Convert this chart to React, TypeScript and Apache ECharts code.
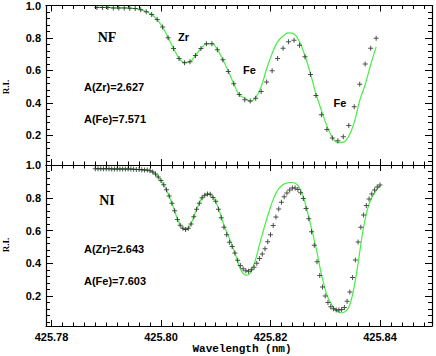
import React, { useEffect, useRef } from "react";
import * as echarts from "echarts";

// ---------- data ----------
const topWl = [
  425.7883, 425.7893, 425.7903, 425.7913, 425.7923, 425.7933, 425.7943, 425.7953, 425.7963, 425.7973,
  425.7983, 425.7993, 425.8003, 425.8013, 425.8023, 425.8033, 425.8043, 425.8053, 425.8063, 425.8073,
  425.8083, 425.8093, 425.8103, 425.8113, 425.8123, 425.8133, 425.8143, 425.8153, 425.8163, 425.8173,
  425.8183, 425.8193, 425.8203, 425.8213, 425.8223, 425.8233, 425.8243, 425.8253, 425.8263, 425.8273,
  425.8283, 425.8293, 425.8303, 425.8313, 425.8323, 425.8333, 425.8343, 425.8353, 425.8363, 425.8373,
  425.8383, 425.8393,
];
const topObs = [
  0.988, 0.988, 0.988, 0.985, 0.985, 0.985, 0.983, 0.982, 0.974, 0.962,
  0.944, 0.914, 0.867, 0.802, 0.735, 0.673, 0.647, 0.653, 0.692, 0.735,
  0.765, 0.765, 0.728, 0.665, 0.594, 0.517, 0.451, 0.419, 0.412, 0.429,
  0.470, 0.529, 0.598, 0.673, 0.737, 0.776, 0.786, 0.755, 0.684, 0.574,
  0.446, 0.327, 0.236, 0.184, 0.167, 0.191, 0.260, 0.376, 0.514, 0.640,
  0.737, 0.798,
];
const topFit = [
  0.988, 0.988, 0.988, 0.986, 0.985, 0.985, 0.984, 0.981, 0.975, 0.963,
  0.944, 0.913, 0.866, 0.802, 0.735, 0.674, 0.648, 0.654, 0.692, 0.735,
  0.764, 0.765, 0.728, 0.666, 0.595, 0.518, 0.449, 0.430, 0.410, 0.433,
  0.500, 0.610, 0.705, 0.776, 0.812, 0.831, 0.824, 0.776, 0.690, 0.580,
  0.457, 0.354, 0.258, 0.188, 0.155, 0.158, 0.194, 0.280, 0.415, 0.513,
  0.635, 0.745,
];

const botWl = [
  425.788, 425.7885, 425.789, 425.7895, 425.79, 425.7905, 425.791, 425.7915, 425.792, 425.7925,
  425.793, 425.7935, 425.794, 425.7945, 425.795, 425.7955, 425.796, 425.7965, 425.797, 425.7975,
  425.798, 425.7985, 425.799, 425.7995, 425.8, 425.8005, 425.801, 425.8015, 425.802, 425.8025,
  425.803, 425.8035, 425.804, 425.8045, 425.805, 425.8055, 425.806, 425.8065, 425.807, 425.8075,
  425.808, 425.8085, 425.809, 425.8095, 425.81, 425.8105, 425.811, 425.8115, 425.812, 425.8125,
  425.813, 425.8135, 425.814, 425.8145, 425.815, 425.8155, 425.816, 425.8165, 425.817, 425.8175,
  425.818, 425.8185, 425.819, 425.8195, 425.82, 425.8205, 425.821, 425.8215, 425.822, 425.8225,
  425.823, 425.8235, 425.824, 425.8245, 425.825, 425.8255, 425.826, 425.8265, 425.827, 425.8275,
  425.828, 425.8285, 425.829, 425.8295, 425.83, 425.8305, 425.831, 425.8315, 425.832, 425.8325,
  425.833, 425.8335, 425.834, 425.8345, 425.835, 425.8355, 425.836, 425.8365, 425.837, 425.8375,
  425.838, 425.8385, 425.839, 425.8395, 425.84,
];
const botObs = [
  0.977, 0.977, 0.977, 0.977, 0.977, 0.977, 0.976, 0.976, 0.976, 0.976,
  0.976, 0.975, 0.975, 0.975, 0.974, 0.973, 0.972, 0.971, 0.970, 0.969,
  0.965, 0.958, 0.945, 0.927, 0.905, 0.880, 0.849, 0.810, 0.766, 0.721,
  0.668, 0.632, 0.614, 0.606, 0.614, 0.640, 0.684, 0.730, 0.766, 0.800,
  0.815, 0.823, 0.821, 0.801, 0.778, 0.730, 0.678, 0.620, 0.574, 0.528,
  0.503, 0.462, 0.418, 0.386, 0.367, 0.354, 0.352, 0.361, 0.376, 0.400,
  0.429, 0.457, 0.488, 0.531, 0.574, 0.630, 0.683, 0.732, 0.772, 0.806,
  0.829, 0.847, 0.859, 0.860, 0.850, 0.830, 0.795, 0.735, 0.672, 0.592,
  0.510, 0.410, 0.325, 0.255, 0.200, 0.160, 0.135, 0.122, 0.115, 0.114,
  0.118, 0.130, 0.168, 0.225, 0.313, 0.420, 0.530, 0.620, 0.695, 0.752,
  0.792, 0.823, 0.848, 0.865, 0.878,
];
const botFit = [
  0.977, 0.977, 0.977, 0.977, 0.977, 0.977, 0.976, 0.976, 0.976, 0.976,
  0.976, 0.975, 0.975, 0.975, 0.974, 0.973, 0.972, 0.971, 0.970, 0.968,
  0.964, 0.957, 0.945, 0.927, 0.905, 0.879, 0.848, 0.810, 0.766, 0.719,
  0.670, 0.634, 0.613, 0.606, 0.615, 0.642, 0.684, 0.728, 0.767, 0.799,
  0.816, 0.823, 0.819, 0.802, 0.775, 0.735, 0.685, 0.632, 0.590, 0.552,
  0.505, 0.462, 0.412, 0.365, 0.338, 0.328, 0.330, 0.352, 0.395, 0.448,
  0.515, 0.575, 0.635, 0.690, 0.742, 0.790, 0.828, 0.855, 0.872, 0.884,
  0.890, 0.893, 0.893, 0.889, 0.876, 0.848, 0.805, 0.745, 0.680, 0.612,
  0.540, 0.465, 0.380, 0.305, 0.240, 0.190, 0.158, 0.130, 0.112, 0.102,
  0.098, 0.102, 0.115, 0.148, 0.210, 0.295, 0.400, 0.515, 0.620, 0.700,
  0.760, 0.800, 0.830, 0.853, 0.874,
];

const xMajorTicks = [425.78, 425.8, 425.82, 425.84];
const yMajorTicks = [0.2, 0.4, 0.6, 0.8, 1.0];

const panelNames = ["NF", "NI"];
const abundZr = ["A(Zr)=2.627", "A(Zr)=2.643"];
const abundFe = ["A(Fe)=7.571", "A(Fe)=7.603"];

// ---------- layout constants ----------
const X_MIN = 425.779;
const X_MAX = 425.8495;
const Y_MIN = 0.017;
const Y_MAX = 1.0;

const xMinorTicks: number[] = [];
for (let k = 0; k <= 34; k++) xMinorTicks.push(+(425.78 + 0.002 * k).toFixed(4));
const yMinorTicks: number[] = [];
for (let k = 1; k <= 25; k++) yMinorTicks.push(+(0.04 * k).toFixed(2));

const FONT = "'Liberation Sans', Arial, sans-serif";
const SERIF = "'Liberation Serif', 'Times New Roman', serif";
const MONO = "'Liberation Mono', 'Courier New', monospace";
const PLUS = "path://M4,0H6V4H10V6H6V10H4V6H0V4H4Z";
const GREEN = "#44f044";

function xAx(gi: number, pos: string, major: boolean, labels: boolean) {
  return {
    type: "value",
    gridIndex: gi,
    min: X_MIN,
    max: X_MAX,
    position: pos,
    axisLine: { show: major, onZero: false, lineStyle: { color: "#000", width: 1.2 } },
    axisTick: {
      show: true,
      inside: true,
      length: major ? 6 : 3.5,
      customValues: major ? xMajorTicks : xMinorTicks,
      lineStyle: { color: "#000", width: 1 },
    },
    axisLabel: {
      show: labels,
      customValues: xMajorTicks,
      formatter: (v: number) => v.toFixed(2),
      color: "#000",
      fontFamily: FONT,
      fontWeight: "bold",
      fontSize: 11,
      margin: 5,
    },
    splitLine: { show: false },
  };
}

function yAx(gi: number, pos: string, major: boolean, labels: boolean) {
  return {
    type: "value",
    gridIndex: gi,
    min: Y_MIN,
    max: Y_MAX,
    position: pos,
    axisLine: { show: major, onZero: false, lineStyle: { color: "#000", width: 1.2 } },
    axisTick: {
      show: true,
      inside: true,
      length: major ? 7 : 4,
      customValues: major ? yMajorTicks : yMinorTicks,
      lineStyle: { color: "#000", width: 1 },
    },
    axisLabel: {
      show: labels,
      customValues: yMajorTicks,
      formatter: (v: number) => v.toFixed(1),
      color: "#000",
      fontFamily: FONT,
      fontWeight: "bold",
      fontSize: 11,
      margin: 5,
    },
    splitLine: { show: false },
  };
}

function txt(x: number, y: number, text: string, font: string, align = "left", rotation = 0) {
  return {
    type: "text",
    x,
    y,
    rotation,
    style: {
      text,
      font,
      fill: "#000",
      align,
      textAlign: align,
      verticalAlign: "middle",
      textVerticalAlign: "middle",
    },
  };
}

export default function App() {
  const ref = useRef<HTMLDivElement>(null);
  useEffect(() => {
    document.body.style.margin = "0";
    if (!ref.current) return;
    const chart = echarts.init(ref.current, undefined, { renderer: "svg" });

    const xAxis: any[] = [];
    const yAxis: any[] = [];
    for (let g = 0; g < 2; g++) {
      xAxis.push(xAx(g, "bottom", true, g === 1));
      xAxis.push(xAx(g, "bottom", false, false));
      xAxis.push(xAx(g, "top", true, false));
      xAxis.push(xAx(g, "top", false, false));
      yAxis.push(yAx(g, "left", true, true));
      yAxis.push(yAx(g, "left", false, false));
      yAxis.push(yAx(g, "right", true, false));
      yAxis.push(yAx(g, "right", false, false));
    }

    const mk = (wl: number[], v: number[]) => wl.map((w, i) => [w, v[i]]);

    const series: any[] = [
      {
        type: "line",
        xAxisIndex: 0,
        yAxisIndex: 0,
        data: mk(topWl, topFit),
        showSymbol: false,
        smooth: 0.4,
        lineStyle: { color: GREEN, width: 1.2 },
        z: 2,
      },
      {
        type: "scatter",
        xAxisIndex: 0,
        yAxisIndex: 0,
        data: mk(topWl, topObs),
        symbol: PLUS,
        symbolSize: 5,
        itemStyle: { color: "#222" },
        z: 3,
      },
      {
        type: "line",
        xAxisIndex: 4,
        yAxisIndex: 4,
        data: mk(botWl, botFit),
        showSymbol: false,
        smooth: 0.4,
        lineStyle: { color: GREEN, width: 1.2 },
        z: 2,
      },
      {
        type: "scatter",
        xAxisIndex: 4,
        yAxisIndex: 4,
        data: mk(botWl, botObs),
        symbol: PLUS,
        symbolSize: 5,
        itemStyle: { color: "#222" },
        z: 3,
      },
    ];

    const bold11 = `bold 11px ${FONT}`;
    const graphic: any[] = [
      txt(107, 37, panelNames[0], `bold 14px ${SERIF}`, "center"),
      txt(107, 200, panelNames[1], `bold 14px ${SERIF}`, "center"),
      txt(84, 87, abundZr[0], bold11),
      txt(84, 119, abundFe[0], bold11),
      txt(84, 249, abundZr[1], bold11),
      txt(84, 281, abundFe[1], bold11),
      txt(183.5, 37, "Zr", bold11, "center"),
      txt(249.5, 70, "Fe", bold11, "center"),
      txt(340, 103, "Fe", bold11, "center"),
      txt(6, 87, "R.I.", `bold 9px ${SERIF}`, "center", Math.PI / 2),
      txt(6, 245, "R.I.", `bold 9px ${SERIF}`, "center", Math.PI / 2),
      txt(242, 349, "Wavelength (nm)", `bold 11px ${MONO}`, "center"),
    ];

    chart.setOption({
      animation: false,
      backgroundColor: "#fff",
      grid: [
        { left: 46, right: 4, top: 4, height: 161 },
        { left: 46, right: 4, top: 165, height: 161 },
      ],
      xAxis,
      yAxis,
      series,
      graphic,
    });
    return () => chart.dispose();
  }, []);
  return <div ref={ref} style={{ width: 436, height: 356 }} />;
}
